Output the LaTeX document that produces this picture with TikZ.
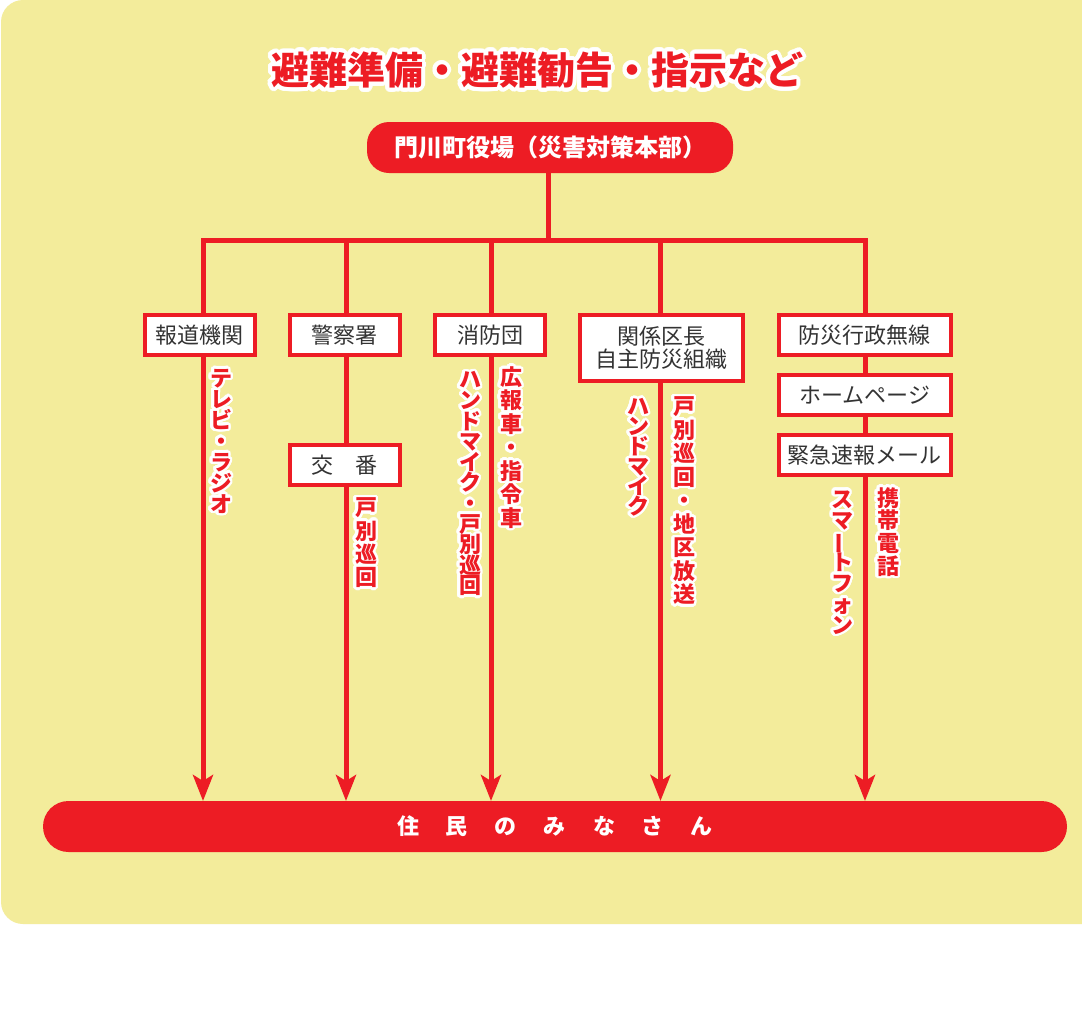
\documentclass[tikz,border=0pt]{standalone}
\usepackage{fontspec}
\newfontfamily\jp{Noto Sans CJK JP}
\usepackage{contour}
\contourlength{2.5pt}
\contournumber{32}
\usetikzlibrary{arrows.meta}
\definecolor{kred}{HTML}{ED1C24}
\definecolor{kyel}{HTML}{F3EC9B}
\definecolor{ktxt}{HTML}{333333}
\newcommand\vlab[2]{\contour{white}{\parbox{1.3em}{\centering\lineskiplimit=-100pt\lineskip=0pt\baselineskip=#1pt #2}}}
\newcommand\vbar{\rotatebox[origin=c]{90}{ー}}
\tikzset{
  conn/.style={draw=kred, line width=5pt},
  arr/.style={conn, -{Stealth[length=26pt,width=20pt,inset=6pt]}},
  wbox/.style={draw=kred, line width=4pt, fill=white, text=ktxt,
    font=\jp\fontsize{22}{23.5}\selectfont, inner sep=0pt, outer sep=0pt,
    align=center, minimum height=40pt},
  vl/.style={text=kred, font=\jp\bfseries\fontsize{22}{22}\selectfont, inner sep=0pt},
}
\begin{document}
\begin{tikzpicture}[x=1pt,y=-1pt]
\useasboundingbox (0,0) rectangle (1082,1010);
\fill[white] (0,0) rectangle (1082,1010);
\fill[kyel, rounded corners=22pt] (1,0) rectangle (1120,924);

% title
\node (title) at (537,72) [text=kred, inner sep=0pt,
  font=\jp\bfseries\fontsize{38}{40}\selectfont]
  {\contourlength{4pt}\contour{white}{避難準備・避難勧告・指示など}};

% headquarters
\node (hq) at (550,147.5) [fill=kred, rounded corners=22pt, minimum width=366pt,
  minimum height=51pt, inner sep=0pt, text=white,
  font=\jp\bfseries\fontsize{24}{26}\selectfont] {門川町役場（災害対策本部）};

% residents
\node (jumin) at (555,826.5) [fill=kred, rounded corners=25.5pt, minimum width=1024pt,
  minimum height=51pt, inner sep=0pt, outer sep=0pt, text=white,
  font=\jp\bfseries\fontsize{22}{24}\selectfont]
  {住\kern27pt 民\kern27pt の\kern27pt み\kern27pt な\kern27pt さ\kern27pt ん};

% boxes
\node[wbox, minimum width=110pt] (hodo) at (199.7,334.7) {報道機関};
\node[wbox, minimum width=110pt] (keisatsu) at (344.7,334.7) {警察署};
\node[wbox, minimum width=110pt] (koban) at (344.7,464.7) {交　番};
\node[wbox, minimum width=110pt] (shobo) at (490,334.7) {消防団};
\node[wbox, minimum width=163pt, minimum height=66.6pt] (kucho) at (661.5,348) {関係区長\\自主防災組織};
\node[wbox, minimum width=172pt] (musen) at (864.7,334.7) {防災行政無線};
\node[wbox, minimum width=172pt] (hp) at (864.7,394.7) {ホームページ};
\node[wbox, minimum width=172pt] (mail) at (864.7,454.7) {緊急速報メール};

% junction coordinates
\coordinate (j) at (548,240);
\coordinate (b1) at (203,240);
\coordinate (b2) at (346,240);
\coordinate (b3) at (491,240);
\coordinate (b4) at (660.5,240);
\coordinate (b5) at (865,240);

% connectors
\draw[conn] (hq.south -| j) -- (j);
\draw[conn] (hodo.north -| b1) -- (b1) -- (b5) -- (musen.north -| b5);
\draw[conn] (b2) -- (keisatsu.north -| b2);
\draw[conn] (b3) -- (shobo.north -| b3);
\draw[conn] (b4) -- (kucho.north -| b4);
\draw[arr] (hodo.south -| b1) -- (b1 |- jumin.north);
\draw[conn] (keisatsu.south -| b2) -- (koban.north -| b2);
\draw[arr] (koban.south -| b2) -- (b2 |- jumin.north);
\draw[arr] (shobo.south -| b3) -- (b3 |- jumin.north);
\draw[arr] (kucho.south -| b4) -- (b4 |- jumin.north);
\draw[conn] (musen.south -| b5) -- (hp.north -| b5);
\draw[conn] (hp.south -| b5) -- (mail.north -| b5);
\draw[arr] (mail.south -| b5) -- (b5 |- jumin.north);

% vertical labels
\node[vl] (tv) at (221,442.5) {\vlab{21}{テ\\レ\\ビ\\・\\ラ\\ジ\\オ}};
\node[vl] (kob) at (366,544) {\vlab{23.3}{戸\\別\\巡\\回}};
\node[vl] (f1) at (470,485) {\vlab{20.6}{ハ\\ン\\ド\\マ\\イ\\ク\\・\\戸\\別\\巡\\回}};
\node[vl] (f2) at (511,448.5) {\vlab{23.5}{広\\報\\車\\・\\指\\令\\車}};
\node[vl] (k1) at (638,458.5) {\vlab{20}{ハ\\ン\\ド\\マ\\イ\\ク}};
\node[vl] (k2) at (684,502) {\vlab{23.5}{戸\\別\\巡\\回\\・\\地\\区\\放\\送}};
\node[vl] (sp) at (842,563.5) {\vlab{21}{ス\\マ\\\vbar\\ト\\フ\\ォ\\ン}};
\node[vl] (kt) at (888,533) {\vlab{22.7}{携\\帯\\電\\話}};
\end{tikzpicture}
\end{document}
